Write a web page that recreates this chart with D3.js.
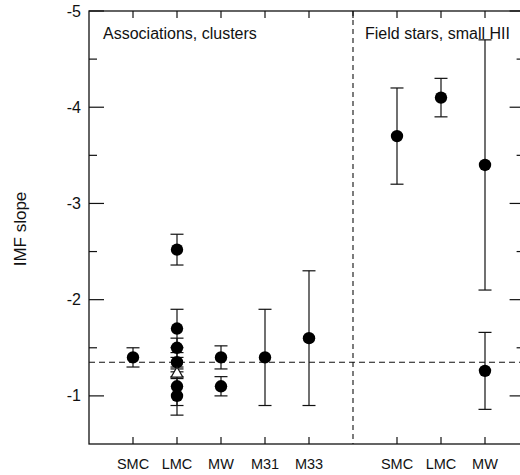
<!DOCTYPE html>
<html>
<head>
<meta charset="utf-8">
<script src="https://cdn.jsdelivr.net/npm/d3@7"></script>
<style>
  body { margin: 0; background: #fff; }
  text { font-family: "Liberation Sans", Arial, sans-serif; fill: #111; }
</style>
</head>
<body>
<script>
// categories along the bottom
var catLabels = ["SMC", "LMC", "MW", "M31", "M33", "SMC", "LMC", "MW"];
var catPos = [1, 2, 3, 4, 5, 7, 8, 9];
var topTickPos = [1, 2, 3, 4, 5, 6, 7, 8, 9];

// measured IMF slopes, symmetric errors
var ptPos   = [1, 2, 2, 2, 2, 2, 2, 2, 3, 3, 4, 5, 7, 8, 9, 9];
var ptVal   = [-1.4, -2.52, -1.7, -1.5, -1.35, -1.23, -1.1, -1.0, -1.4, -1.1, -1.4, -1.6, -3.7, -4.1, -3.4, -1.26];
var ptErr   = [0.1, 0.16, 0.2, 0.1, 0.1, 0.05, 0.2, 0.2, 0.12, 0.1, 0.5, 0.7, 0.5, 0.2, 1.3, 0.4];
var ptShape = ["dot", "dot", "dot", "dot", "dot", "tri", "dot", "dot", "dot", "dot", "dot", "dot", "dot", "dot", "dot", "dot"];

var yMajor = [-5, -4, -3, -2, -1];
var yMinor = [-4.5, -3.5, -2.5, -1.5];
var salpeter = -1.35;
var splitPos = 6;

var width = 520, height = 475;

var x = d3.scaleLinear().domain([0, 9.9]).range([89, 524.6]);
var y = d3.scaleLinear().domain([-0.5, -5]).range([444, 11]);

var svg = d3.select("body").append("svg")
    .attr("width", width)
    .attr("height", height);

var x0 = x.range()[0], x1 = x.range()[1];
var y0 = y.range()[0], y1 = y.range()[1];

// frame
svg.append("rect")
    .attr("x", x0).attr("y", y1)
    .attr("width", x1 - x0).attr("height", y0 - y1)
    .attr("fill", "none").attr("stroke", "#111").attr("stroke-width", 1.3);

// left + right y ticks
var g = svg.append("g").attr("stroke", "#111").attr("stroke-width", 1.2);
yMajor.forEach(function (v) {
  g.append("line").attr("x1", x0).attr("x2", x0 + 15).attr("y1", y(v)).attr("y2", y(v));
  g.append("line").attr("x1", x1).attr("x2", x1 - 15).attr("y1", y(v)).attr("y2", y(v));
});
yMinor.forEach(function (v) {
  g.append("line").attr("x1", x0).attr("x2", x0 + 8).attr("y1", y(v)).attr("y2", y(v));
  g.append("line").attr("x1", x1).attr("x2", x1 - 8).attr("y1", y(v)).attr("y2", y(v));
});
// top + bottom x ticks
topTickPos.forEach(function (p) {
  g.append("line").attr("x1", x(p)).attr("x2", x(p)).attr("y1", y1).attr("y2", y1 + 7);
});
catPos.forEach(function (p) {
  g.append("line").attr("x1", x(p)).attr("x2", x(p)).attr("y1", y0).attr("y2", y0 - 7);
});

// y tick labels
svg.selectAll("text.ylab")
    .data(yMajor)
    .join("text")
    .attr("class", "ylab")
    .attr("x", 81)
    .attr("y", function (d) { return y(d); })
    .attr("dy", "0.35em")
    .attr("text-anchor", "end")
    .style("font-size", "16px")
    .text(function (d) { return d; });

// x labels
svg.selectAll("text.xlab")
    .data(catLabels)
    .join("text")
    .attr("class", "xlab")
    .attr("x", function (d, i) { return x(catPos[i]); })
    .attr("y", 469)
    .attr("text-anchor", "middle")
    .style("font-size", "14.5px")
    .text(function (d) { return d; });

// axis title
svg.append("text")
    .attr("transform", "translate(26,229) rotate(-90)")
    .attr("text-anchor", "middle")
    .style("font-size", "17px")
    .text("IMF slope");

// panel titles
svg.append("text").attr("x", 103).attr("y", 39).style("font-size", "16px").text("Associations, clusters");
svg.append("text").attr("x", 365).attr("y", 39).style("font-size", "16px").text("Field stars, small HII");

// dashed reference lines
svg.append("line")
    .attr("x1", x0).attr("x2", x1)
    .attr("y1", y(salpeter)).attr("y2", y(salpeter))
    .attr("stroke", "#111").attr("stroke-width", 1.1)
    .attr("stroke-dasharray", "6,4");
svg.append("line")
    .attr("x1", x(splitPos)).attr("x2", x(splitPos))
    .attr("y1", y1).attr("y2", y0)
    .attr("stroke", "#111").attr("stroke-width", 1.1)
    .attr("stroke-dasharray", "5,4");

// error bars
var idx = d3.range(ptVal.length);
var eb = svg.append("g").attr("stroke", "#111").attr("stroke-width", 1.2);
idx.forEach(function (i) {
  var cx = x(ptPos[i]);
  var lo = y(ptVal[i] + ptErr[i]), hi = y(ptVal[i] - ptErr[i]);
  eb.append("line").attr("x1", cx).attr("x2", cx).attr("y1", lo).attr("y2", hi);
  eb.append("line").attr("x1", cx - 6.5).attr("x2", cx + 6.5).attr("y1", lo).attr("y2", lo);
  eb.append("line").attr("x1", cx - 6.5).attr("x2", cx + 6.5).attr("y1", hi).attr("y2", hi);
});

// markers
svg.selectAll("circle.pt")
    .data(idx.filter(function (i) { return ptShape[i] === "dot"; }))
    .join("circle")
    .attr("class", "pt")
    .attr("cx", function (i) { return x(ptPos[i]); })
    .attr("cy", function (i) { return y(ptVal[i]); })
    .attr("r", 6.2)
    .attr("fill", "#000");

svg.selectAll("path.tri")
    .data(idx.filter(function (i) { return ptShape[i] === "tri"; }))
    .join("path")
    .attr("class", "tri")
    .attr("transform", function (i) { return "translate(" + x(ptPos[i]) + "," + y(ptVal[i]) + ")"; })
    .attr("d", d3.symbol().type(d3.symbolTriangle).size(60))
    .attr("fill", "#fff")
    .attr("stroke", "#111")
    .attr("stroke-width", 1.2);
</script>
</body>
</html>
